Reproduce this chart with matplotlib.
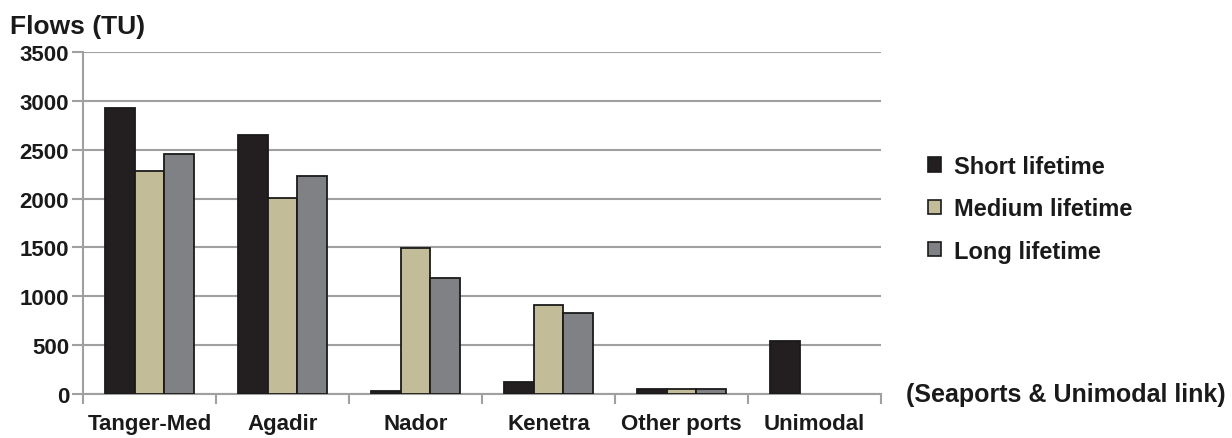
import numpy as np
import matplotlib
matplotlib.use("Agg")
import matplotlib.pyplot as plt
from matplotlib.patches import Patch

categories = ["Tanger-Med", "Agadir", "Nador", "Kenetra", "Other ports", "Unimodal"]
short_life = [2930, 2650, 35, 125, 55, 545]
medium_life = [2280, 2010, 1490, 910, 50, None]
long_life = [2460, 2230, 1190, 825, 50, None]
series_names = ["Short lifetime", "Medium lifetime", "Long lifetime"]
yticks = [0, 500, 1000, 1500, 2000, 2500, 3000, 3500]

colors = ["#231f20", "#c3bc98", "#808184"]

plt.rcParams['font.family'] = ['Liberation Sans', 'DejaVu Sans']
plt.rcParams['font.weight'] = 'bold'

fig = plt.figure(figsize=(12.32, 4.39), dpi=100)
ax = fig.add_axes([83/1232, 1-395/439, 798/1232, 342/439])

width = 0.225
x = np.arange(len(categories))
for i, (vals, c) in enumerate(zip([short_life, medium_life, long_life], colors)):
    xs = [xi + (i-1)*width for xi, v in zip(x, vals) if v is not None]
    hs = [v for v in vals if v is not None]
    ax.bar(xs, hs, width=width, color=c, edgecolor="#1a1a1a", linewidth=1.3, zorder=3)

ax.set_xlim(-0.5, len(categories)-0.5)
ax.set_ylim(0, 3500)
ax.set_yticks(yticks)
ax.set_yticklabels([str(t) for t in yticks], fontsize=16, fontweight='bold', color='#1a1a1a')
ax.yaxis.grid(True, color='#a0a0a0', linewidth=1.5, zorder=0)
ax.set_axisbelow(True)

ax.set_xticks(x)
ax.set_xticklabels(categories, fontsize=16, fontweight='bold', color='#1a1a1a')
ax.set_xticks(np.arange(-0.5, len(categories)), minor=True)
ax.tick_params(axis='x', which='major', length=0, pad=14)
ax.tick_params(axis='x', which='minor', length=7, width=1.5, color='#a0a0a0', direction='out')
ax.tick_params(axis='y', length=8, width=1.5, color='#a0a0a0', pad=2)

for s in ['top', 'right']:
    ax.spines[s].set_visible(False)
for s in ['left', 'bottom']:
    ax.spines[s].set_color('#a0a0a0')
    ax.spines[s].set_linewidth(1.5)

handles = [Patch(facecolor=c, edgecolor='#1a1a1a', linewidth=1.2) for c in colors]
leg = fig.legend(handles, series_names, loc='upper left', bbox_to_anchor=(916/1232, 1-144/439),
                 frameon=False, prop={'weight': 'bold', 'size': 17}, borderpad=0,
                 handlelength=0.55, handleheight=0.55, handletextpad=0.55, labelspacing=0.82)
for t in leg.get_texts():
    t.set_color('#1a1a1a')

fig.text(10/1232, 1-27/439, "Flows (TU)", fontsize=19, fontweight='bold', color='#1a1a1a', va='center', ha='left')
fig.text(1226/1232, 1-395/439, "(Seaports & Unimodal link)", fontsize=18, fontweight='bold', color='#1a1a1a', va='center', ha='right')

fig.savefig("out.png", dpi=100)
